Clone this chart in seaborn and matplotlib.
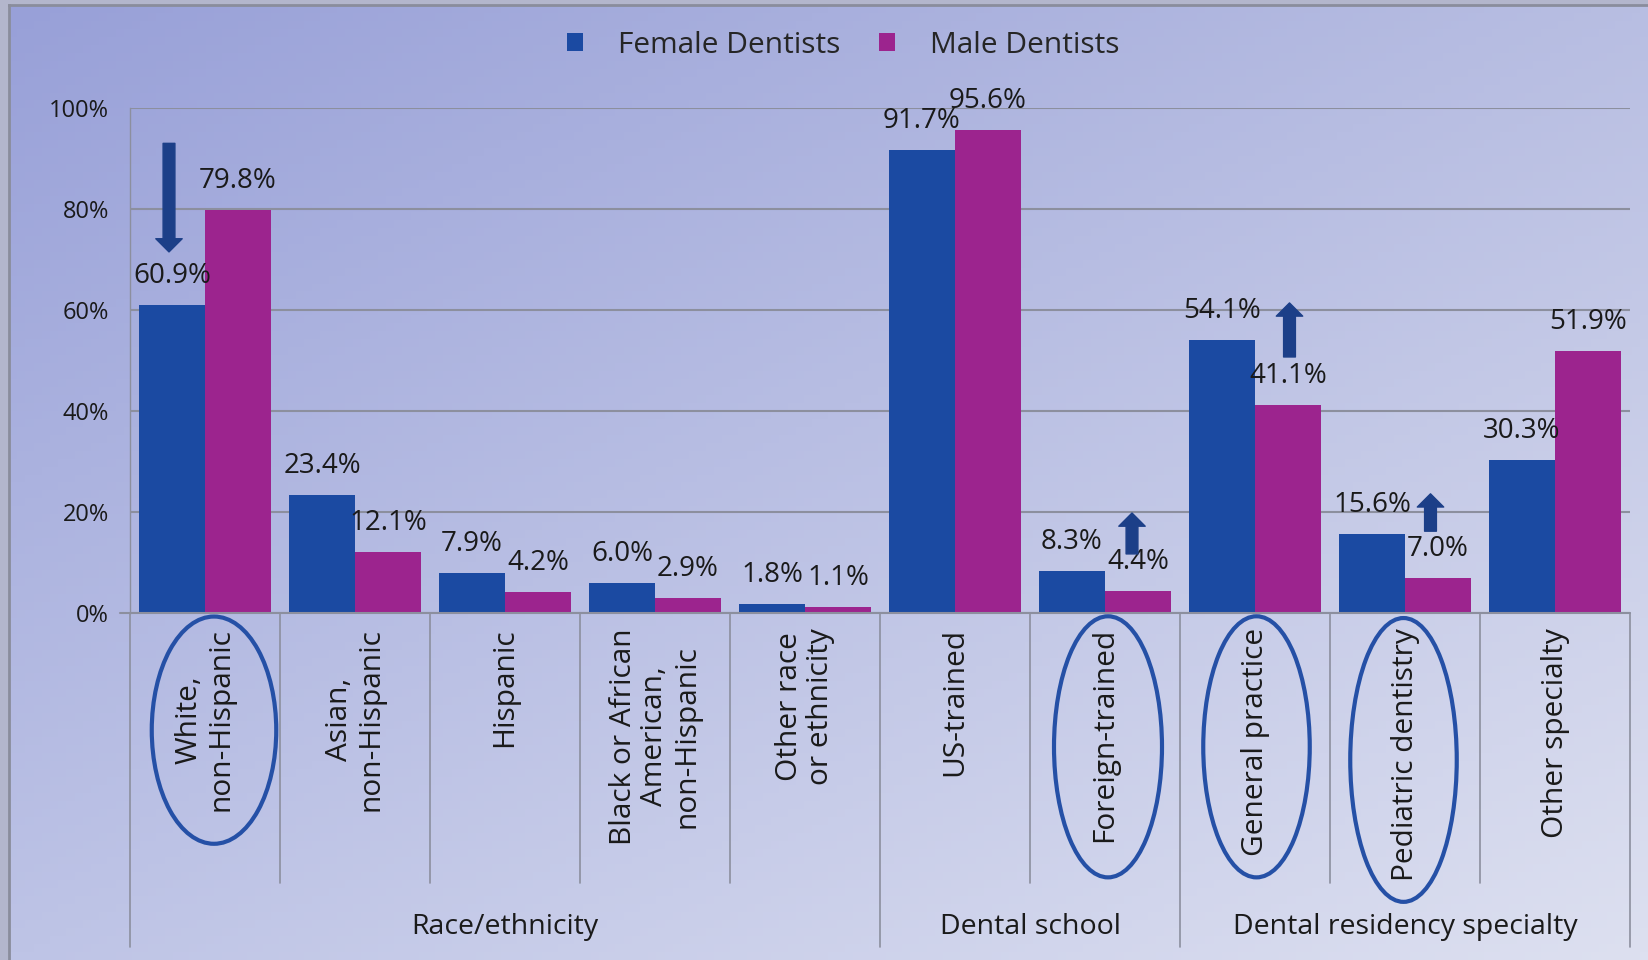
import numpy as np
import pandas as pd
import seaborn as sns
import matplotlib.pyplot as plt
from matplotlib.patches import Ellipse
from matplotlib.transforms import blended_transform_factory

sns.set_theme(style="white")
plt.rcParams['font.family'] = ['Open Sans', 'DejaVu Sans']

categories = ["White,\nnon-Hispanic", "Asian,\nnon-Hispanic", "Hispanic",
              "Black or African\nAmerican,\nnon-Hispanic", "Other race\nor ethnicity",
              "US-trained", "Foreign-trained", "General practice",
              "Pediatric dentistry", "Other specialty"]
female = [60.9, 23.4, 7.9, 6.0, 1.8, 91.7, 8.3, 54.1, 15.6, 30.3]
male = [79.8, 12.1, 4.2, 2.9, 1.1, 95.6, 4.4, 41.1, 7.0, 51.9]
series = ["Female Dentists", "Male Dentists"]
groups = ["Race/ethnicity", "Dental school", "Dental residency specialty"]
group_edges = [-0.5, 4.5, 6.5, 9.5]
circled = [0, 6, 7, 8]
# highlight arrows: x position, start value, end value
arrows = [(-0.24, 93.0, 71.5), (6.18, 11.7, 19.8), (7.23, 50.7, 61.4), (8.17, 16.2, 23.6)]

colors = ["#1B4AA2", "#9C248E"]
grid_col = "#8C8F9E"
narrow = ['Liberation Sans Narrow', 'Open Sans', 'DejaVu Sans']

df = pd.DataFrame({
    "category": categories * 2,
    "series": [series[0]] * len(categories) + [series[1]] * len(categories),
    "value": female + male,
})

fig = plt.figure(figsize=(16.48, 9.6), dpi=100, facecolor="#B3B6CC")

# gradient background
bg = fig.add_axes([9 / 1648, 0, 1 - 9 / 1648, 1 - 5 / 960])
tl, tr = np.array([152, 160, 216]), np.array([184, 190, 226])
bl, br = np.array([190, 196, 230]), np.array([221, 224, 240])
U, V = np.meshgrid(np.linspace(0, 1, 200), np.linspace(0, 1, 120))
U, V = U[..., None], V[..., None]
img = (tl * (1 - U) * (1 - V) + tr * U * (1 - V) + bl * (1 - U) * V + br * U * V) / 255
bg.imshow(img, aspect="auto", extent=(0, 1, 0, 1))
bg.set_xticks([])
bg.set_yticks([])
for s in ["bottom", "right"]:
    bg.spines[s].set_visible(False)
for s in ["top", "left"]:
    bg.spines[s].set_color("#8A8D9C")
    bg.spines[s].set_linewidth(2)

ax = fig.add_axes([130 / 1648, 1 - 613 / 960, 1500 / 1648, 505 / 960])
ax.patch.set_alpha(0)
sns.barplot(data=df, x="category", y="value", hue="series", order=categories,
            hue_order=series, palette=colors, width=0.88, gap=0, saturation=1,
            edgecolor="none", ax=ax)

handles, labels = ax.get_legend_handles_labels()
ax.get_legend().remove()
fig.legend(handles, labels, loc="center", bbox_to_anchor=(0.5115, 0.953), ncol=2,
           frameon=False, fontsize=21.5, handlelength=0.55, handleheight=0.55,
           handletextpad=1.15, columnspacing=1.3)

ax.set_xlim(-0.5, 9.5)
ax.set_ylim(0, 100)
ax.set_yticks(range(0, 101, 20))
ax.set_yticklabels([f"{v}%" for v in range(0, 101, 20)], fontfamily=narrow, fontsize=17)
ax.set_xticks([])
ax.set_xlabel("")
ax.set_ylabel("")
ax.grid(axis="y", color=grid_col, lw=1.5)
ax.set_axisbelow(True)
ax.tick_params(axis="y", length=8, color=grid_col, width=1.5, pad=7, colors="#1A1A1A")
for s in ["top", "right", "bottom"]:
    ax.spines[s].set_visible(False)
ax.spines["left"].set_color(grid_col)
ax.spines["left"].set_linewidth(1)
ax.axhline(0, color=grid_col, lw=1.5, xmin=-0.007, clip_on=False)

# value labels
for cont in ax.containers:
    for bar in cont:
        h = bar.get_height()
        ax.annotate(f"{h:.1f}%", (bar.get_x() + bar.get_width() / 2, h),
                    xytext=(0, 29), textcoords="offset pixels", ha="center", va="center",
                    fontsize=20, fontfamily=narrow, color="#1A1A1A")

trans = blended_transform_factory(ax.transData, ax.transAxes)

# category labels
for i, lab in enumerate(categories):
    ax.text(i, -0.03, lab, transform=trans, rotation=90, ha="center", va="top",
            multialignment="center", fontsize=21.5, linespacing=1.12, color="#1A1A1A")

# separators
for i in range(len(categories) + 1):
    x = i - 0.5
    bottom = -0.661 if x in group_edges else -0.535
    ax.plot([x, x], [0, bottom], transform=trans, color=grid_col, lw=1.2, clip_on=False)

# group labels
for g, a, b in zip(groups, group_edges[:-1], group_edges[1:]):
    ax.text((a + b) / 2, -0.622, g, transform=trans, ha="center", va="center",
            fontsize=20.5, color="#1A1A1A")

# circled labels
ell_h = {0: 0.45, 6: 0.517, 7: 0.517, 8: 0.562}
ell_y = {0: -0.232, 6: -0.265, 7: -0.265, 8: -0.291}
ell_w = {0: 0.83, 6: 0.72, 7: 0.71, 8: 0.71}
ell_dx = {0: 0.06, 6: 0.02, 7: 0.01, 8: -0.01}
for i in circled:
    ax.add_patch(Ellipse((i + ell_dx[i], ell_y[i]), ell_w[i], ell_h[i], transform=trans,
                         fill=False, edgecolor="#2550A6", lw=3, clip_on=False))

# arrows
for x, y0, y1 in arrows:
    ax.annotate("", xy=(x, y1), xytext=(x, y0),
                arrowprops=dict(width=8.5, headwidth=19, headlength=9.5,
                                color="#1C3F88", shrink=0))

fig.savefig("out.png", dpi=100, facecolor=fig.get_facecolor())
